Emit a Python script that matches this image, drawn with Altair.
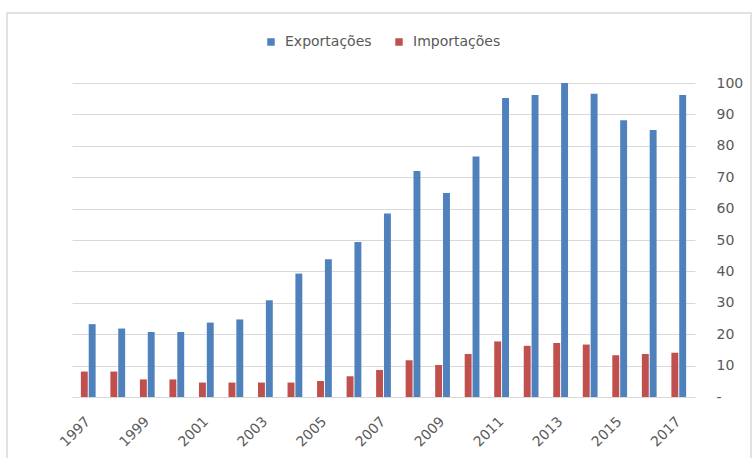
import altair as alt
import pandas as pd

years = [str(y) for y in range(1997, 2018)]
exportacoes = [23.2, 21.8, 20.7, 20.7, 23.7, 24.7, 30.8, 39.3, 43.9, 49.4, 58.4,
               72.0, 65.0, 76.6, 95.2, 96.2, 100.0, 96.6, 88.1, 85.0, 96.2]
importacoes = [8.1, 8.1, 5.6, 5.6, 4.6, 4.6, 4.6, 4.6, 5.1, 6.6, 8.6,
               11.7, 10.2, 13.7, 17.7, 16.3, 17.2, 16.7, 13.3, 13.7, 14.1]
series = ["Exportações", "Importações"]
colors = ["#4F81BD", "#C0504D"]
odd_years = [str(y) for y in range(1997, 2018, 2)]
y_ticks = [0, 10, 20, 30, 40, 50, 60, 70, 80, 90, 100]

rows = []
for i, yr in enumerate(years):
    rows.append({"Ano": yr, "Série": series[0], "Valor": exportacoes[i]})
    rows.append({"Ano": yr, "Série": series[1], "Valor": importacoes[i]})
df = pd.DataFrame(rows)

FONT = "DejaVu Sans"
GRAY = "#595959"

bars = alt.Chart(df).mark_bar().encode(
    x=alt.X("Ano:N", sort=years,
            scale=alt.Scale(paddingInner=0.5, paddingOuter=0.3),
            axis=alt.Axis(values=odd_years, title=None, labelAngle=-45,
                          labelAlign="right", labelBaseline="middle",
                          labelPadding=22, ticks=False, domain=False,
                          labelFontSize=14, labelColor=GRAY, labelFont=FONT)),
    xOffset=alt.XOffset("Série:N", sort=["Importações", "Exportações"],
                        scale=alt.Scale(domain=["Importações", "Exportações"], paddingInner=0.12)),
    y=alt.Y("Valor:Q",
            scale=alt.Scale(domain=[0, 100], nice=False),
            axis=alt.Axis(orient="right", values=y_ticks, title=None,
                          labelExpr="datum.value == 0 ? '-' : datum.label",
                          ticks=False, domain=False, labelPadding=21,
                          labelFontSize=14, labelColor=GRAY, labelFont=FONT,
                          gridColor="#D9D9D9", gridWidth=1.2)),
    color=alt.Color("Série:N",
                    scale=alt.Scale(domain=series, range=colors),
                    legend=alt.Legend(title=None, orient="none", direction="horizontal",
                                      legendX=192, legendY=-48,
                                      symbolType="square", symbolSize=56,
                                      symbolStrokeWidth=0,
                                      labelFontSize=14, labelColor=GRAY, labelFont=FONT,
                                      labelOffset=7, columnPadding=20)),
)

frame = alt.Chart(pd.DataFrame({"k": [0]})).mark_rect(
    fill="transparent", stroke="#D9D9D9", strokeWidth=1.5
).encode(x=alt.value(-65), x2=alt.value(679), y=alt.value(-70), y2=alt.value(390))

chart = alt.layer(frame, bars).properties(
    width=623, height=314,
    autosize=alt.AutoSizeParams(type="none"),
    padding={"left": 72, "top": 83, "right": 58, "bottom": 61},
    background="white",
).configure_view(strokeWidth=0)

chart.save("out.html", embed_options={"renderer": "svg", "actions": False})
